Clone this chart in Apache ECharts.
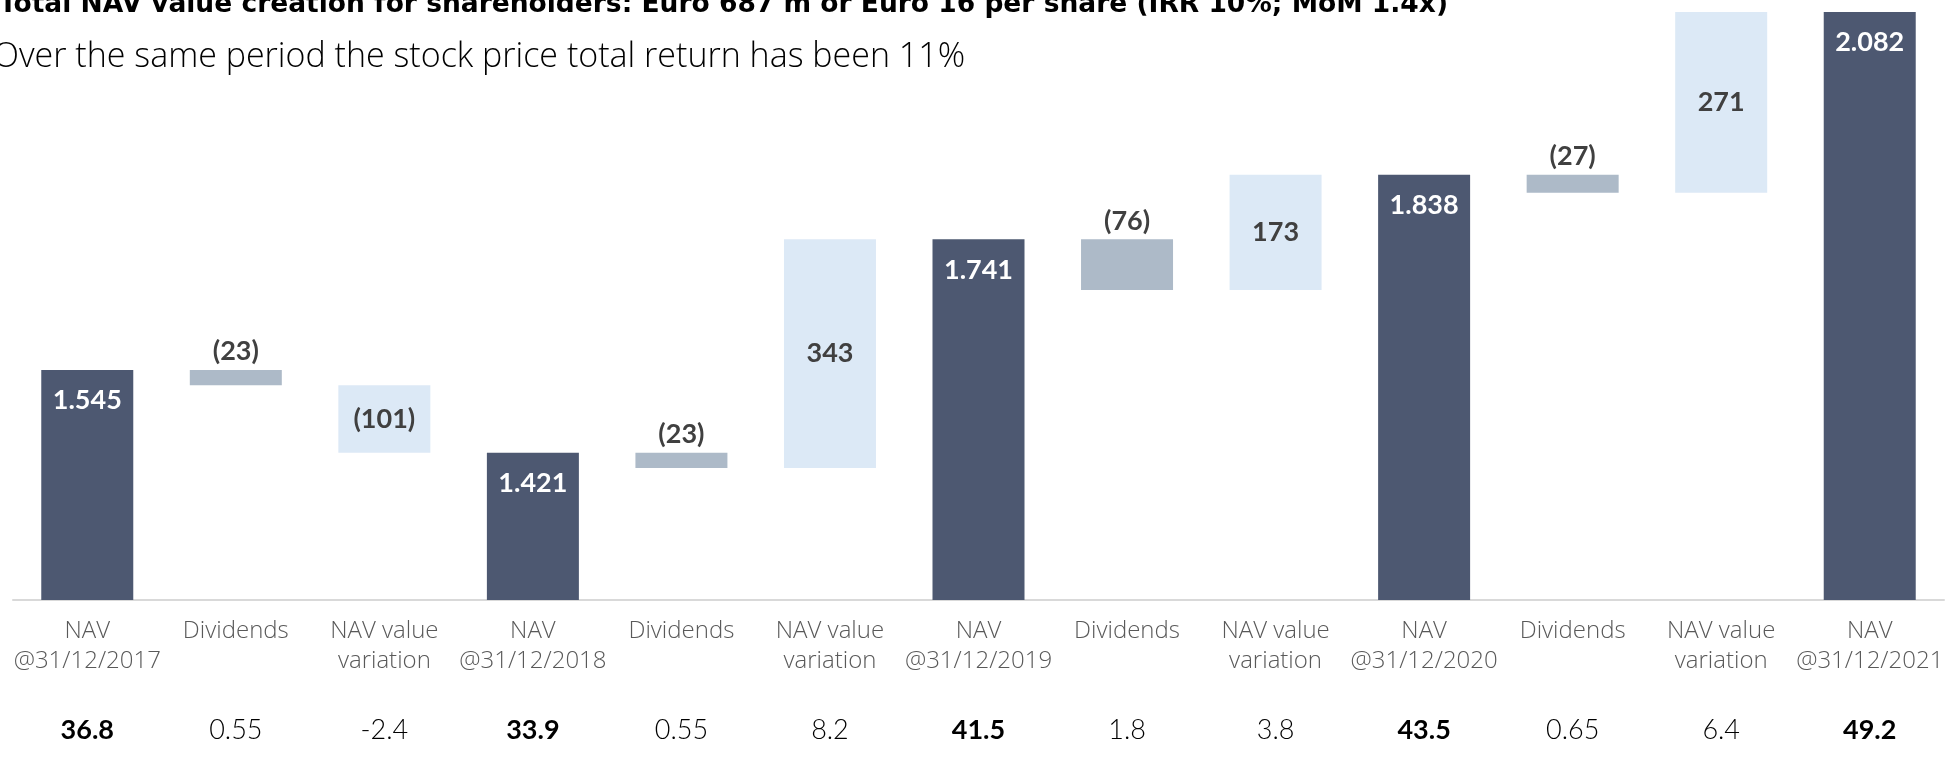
<!DOCTYPE html>
<html>
<head>
<meta charset="utf-8">
<script src="https://cdn.jsdelivr.net/npm/echarts@6/dist/echarts.min.js"></script>
<style>
  html, body { margin: 0; padding: 0; background: #ffffff; }
  #chart { width: 1952px; height: 761px; }
</style>
</head>
<body>
<div id="chart"></div>
<script>
// NAV bridge, Euro m: year-end NAV totals with the movements between them
const categories = [
  'NAV\n@31/12/2017', 'Dividends', 'NAV value\nvariation',
  'NAV\n@31/12/2018', 'Dividends', 'NAV value\nvariation',
  'NAV\n@31/12/2019', 'Dividends', 'NAV value\nvariation',
  'NAV\n@31/12/2020', 'Dividends', 'NAV value\nvariation',
  'NAV\n@31/12/2021'
];
const kinds = [
  'total', 'dividend', 'variation',
  'total', 'dividend', 'variation',
  'total', 'dividend', 'variation',
  'total', 'dividend', 'variation',
  'total'
];
// totals are levels, the rest are changes
const steps = [1545, -23, -101, 1421, -23, 343, 1741, -76, 173, 1838, -27, 271, 2082];
// Euro per share
const perShare = ['36.8', '0.55', '-2.4', '33.9', '0.55', '8.2', '41.5', '1.8', '3.8', '43.5', '0.65', '6.4', '49.2'];

const titleText = 'Total NAV value creation for shareholders: Euro 687 m or Euro 16 per share (IRR 10%; MoM 1.4x)';
const subtitleText = 'Over the same period the stock price total return has been 11%';

const COLORS = { total: '#4d5871', dividend: '#adbac8', variation: '#dce9f6' };
const LABEL_DARK = '#404040';
const NUM_FONT = 'Lato, "Open Sans", sans-serif';
const TEXT_FONT = '"Open Sans", Lato, sans-serif';

// running levels: each floating bar spans [low, low + |change|]
const base = [], total = [], dividend = [], variation = [];
let level = 0;
steps.forEach((v, i) => {
  const k = kinds[i];
  if (k === 'total') {
    level = v;
    base.push(0);
    total.push(v); dividend.push('-'); variation.push('-');
  } else {
    const next = level + v;
    base.push(Math.min(level, next));
    total.push('-');
    dividend.push(k === 'dividend' ? Math.abs(v) : '-');
    variation.push(k === 'variation' ? Math.abs(v) : '-');
    level = next;
  }
});

const fmtThousands = v => String(v).replace(/\B(?=(\d{3})+(?!\d))/g, '.');
const fmtChange = v => v < 0 ? '(' + Math.abs(v) + ')' : String(v);
const labelText = p => {
  const v = steps[p.dataIndex];
  return kinds[p.dataIndex] === 'total' ? fmtThousands(v) : fmtChange(v);
};

const chart = echarts.init(document.getElementById('chart'), null, { renderer: 'canvas' });

chart.setOption({
  animation: false,
  backgroundColor: '#ffffff',
  grid: { left: 13, right: 8, top: 0, bottom: 161, containLabel: false },
  graphic: [
    {
      type: 'text', right: 504, top: -8,
      style: { text: titleText, fill: '#000000', font: 'bold 26.5px "DejaVu Sans", ' + NUM_FONT }
    },
    {
      type: 'text', left: -7, top: 40,
      style: { text: subtitleText, fill: '#000000', font: '300 34px ' + TEXT_FONT }
    }
  ],
  xAxis: [
    {
      type: 'category', data: categories, position: 'bottom',
      axisTick: { show: false },
      axisLine: { lineStyle: { color: '#d9d9d9', width: 2 } },
      axisLabel: {
        interval: 0, margin: 16, color: '#595959',
        fontFamily: TEXT_FONT, fontWeight: 300, fontSize: 24, lineHeight: 30
      }
    },
    {
      type: 'category', data: categories, position: 'bottom',
      axisTick: { show: false }, axisLine: { show: false },
      axisLabel: {
        interval: 0, margin: 116,
        formatter: (val, i) => kinds[i] === 'total' ? '{b|' + perShare[i] + '}' : '{n|' + perShare[i] + '}',
        rich: {
          b: { fontFamily: NUM_FONT, fontWeight: 'bold', fontSize: 27, color: '#000000', lineHeight: 28 },
          n: { fontFamily: NUM_FONT, fontWeight: 300, fontSize: 27, color: '#000000', lineHeight: 28 }
        }
      }
    }
  ],
  yAxis: {
    type: 'value', min: 1200, max: 2100, show: false,
    splitLine: { show: false }
  },
  series: [
    {
      name: 'base', type: 'bar', stack: 'bridge', data: base, barWidth: 92,
      itemStyle: { color: 'transparent' }, silent: true
    },
    {
      name: 'NAV', type: 'bar', stack: 'bridge', data: total, barWidth: 92,
      itemStyle: { color: COLORS.total },
      label: {
        show: true, position: 'insideTop', distance: 17, formatter: labelText,
        color: '#ffffff', fontFamily: NUM_FONT, fontWeight: 'bold', fontSize: 27
      }
    },
    {
      name: 'Dividends', type: 'bar', stack: 'bridge', data: dividend, barWidth: 92,
      itemStyle: { color: COLORS.dividend },
      label: {
        show: true, position: 'top', distance: 5, formatter: labelText,
        color: LABEL_DARK, fontFamily: NUM_FONT, fontWeight: 'bold', fontSize: 27
      }
    },
    {
      name: 'NAV value variation', type: 'bar', stack: 'bridge', data: variation, barWidth: 92,
      itemStyle: { color: COLORS.variation },
      label: {
        show: true, position: 'inside', formatter: labelText,
        color: LABEL_DARK, fontFamily: NUM_FONT, fontWeight: 'bold', fontSize: 27
      }
    }
  ]
});
</script>
</body>
</html>
